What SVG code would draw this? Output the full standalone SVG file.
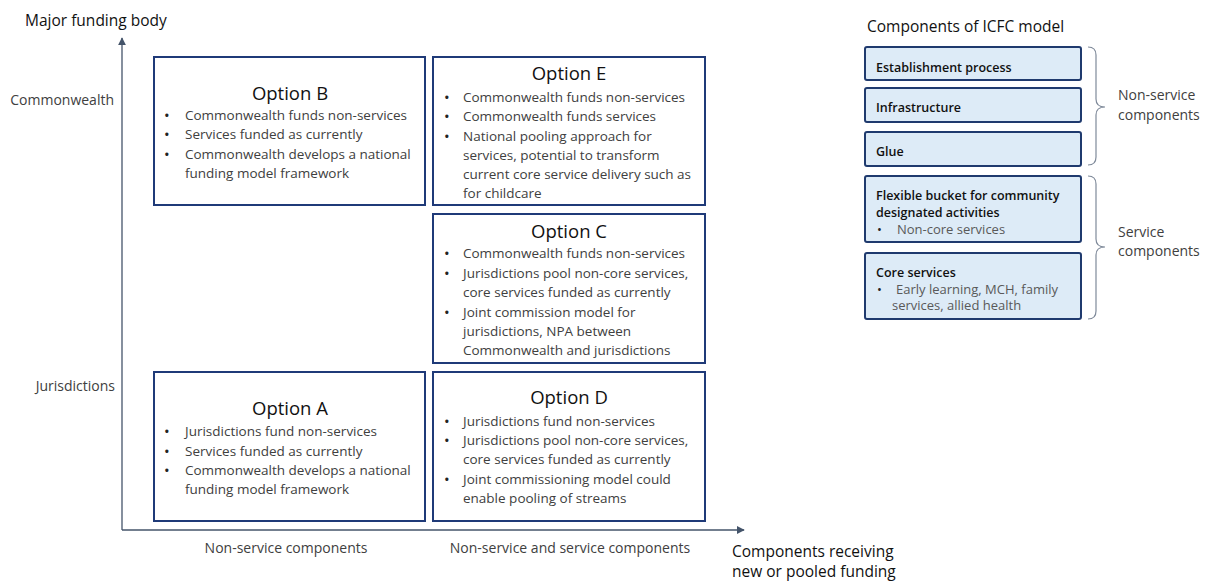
<svg xmlns="http://www.w3.org/2000/svg" width="1209" height="581" viewBox="0 0 1209 581">
<defs>
<style>
text{font-family:"Open Sans","Noto Sans","Liberation Sans",sans-serif}
.box{fill:#fff;stroke:#1F3A78;stroke-width:2}
.comp{fill:#DDEBF7;stroke:#1F3A6E;stroke-width:2}
.ttl{font-size:18.5px;fill:#111;text-anchor:middle}
.b{font-size:13.5px;fill:#404040}
.d{font-size:15px;fill:#222}
.ax{font-size:14px;fill:#404040}
.hd{font-size:15.5px;fill:#111}
.cb{font-size:12.5px;fill:#111;font-weight:600}
.cs{font-size:13px;fill:#595959}
.axis{stroke:#44546A;stroke-width:1.3;fill:none}
.brace{stroke:#7F8A9A;stroke-width:1.2;fill:none}
</style>
<marker id="ah" viewBox="0 0 10 10" refX="9" refY="5" markerWidth="8" markerHeight="8" orient="auto" markerUnits="userSpaceOnUse">
<path d="M0,0 L10,5 L0,10 z" fill="#44546A"/>
</marker>
</defs>
<rect width="1209" height="581" fill="#fff"/>

<g id="axes">
<line class="axis" x1="122" y1="530" x2="122" y2="38" marker-end="url(#ah)"/>
<line class="axis" x1="122" y1="530" x2="744" y2="530" marker-end="url(#ah)"/>
<text class="hd" x="25" y="26">Major funding body</text>
<text class="ax" x="114" y="105" text-anchor="end">Commonwealth</text>
<text class="ax" x="115" y="391" text-anchor="end">Jurisdictions</text>
<text class="ax" x="286" y="553" text-anchor="middle">Non-service components</text>
<text class="ax" x="570" y="553" text-anchor="middle">Non-service and service components</text>
<text class="hd" x="732" y="557">Components receiving</text>
<text class="hd" x="732" y="577">new or pooled funding</text>
</g>

<g id="optionB">
<rect class="box" x="154" y="57" width="271" height="148"/>
<text class="ttl" x="290" y="100">Option B</text>
<text class="b"><tspan class="d" x="164" y="121">•</tspan><tspan x="185" y="120">Commonwealth funds non-services</tspan><tspan class="d" x="164" y="140">•</tspan><tspan x="185" y="139">Services funded as currently</tspan><tspan class="d" x="164" y="160">•</tspan><tspan x="185" y="159">Commonwealth develops a national</tspan><tspan x="185" y="178">funding model framework</tspan></text>
</g>

<g id="optionE">
<rect class="box" x="433" y="57" width="272" height="148"/>
<text class="ttl" x="569" y="80">Option E</text>
<text class="b"><tspan class="d" x="444" y="103">•</tspan><tspan x="463" y="102">Commonwealth funds non-services</tspan><tspan class="d" x="444" y="122">•</tspan><tspan x="463" y="121">Commonwealth funds services</tspan><tspan class="d" x="444" y="142">•</tspan><tspan x="463" y="141">National pooling approach for</tspan><tspan x="463" y="160">services, potential to transform</tspan><tspan x="463" y="179">current core service delivery such as</tspan><tspan x="463" y="198">for childcare</tspan></text>
</g>

<g id="optionC">
<rect class="box" x="433" y="214" width="272" height="149"/>
<text class="ttl" x="569" y="238">Option C</text>
<text class="b"><tspan class="d" x="444" y="259">•</tspan><tspan x="463" y="258">Commonwealth funds non-services</tspan><tspan class="d" x="444" y="279">•</tspan><tspan x="463" y="278">Jurisdictions pool non-core services,</tspan><tspan x="463" y="297">core services funded as currently</tspan><tspan class="d" x="444" y="318">•</tspan><tspan x="463" y="317">Joint commission model for</tspan><tspan x="463" y="336">jurisdictions, NPA between</tspan><tspan x="463" y="355">Commonwealth and jurisdictions</tspan></text>
</g>

<g id="optionA">
<rect class="box" x="154" y="372" width="271" height="149"/>
<text class="ttl" x="290" y="415">Option A</text>
<text class="b"><tspan class="d" x="164" y="437">•</tspan><tspan x="185" y="436">Jurisdictions fund non-services</tspan><tspan class="d" x="164" y="457">•</tspan><tspan x="185" y="456">Services funded as currently</tspan><tspan class="d" x="164" y="476">•</tspan><tspan x="185" y="475">Commonwealth develops a national</tspan><tspan x="185" y="494">funding model framework</tspan></text>
</g>

<g id="optionD">
<rect class="box" x="433" y="372" width="272" height="149"/>
<text class="ttl" x="569" y="404">Option D</text>
<text class="b"><tspan class="d" x="444" y="427">•</tspan><tspan x="463" y="426">Jurisdictions fund non-services</tspan><tspan class="d" x="444" y="446">•</tspan><tspan x="463" y="445">Jurisdictions pool non-core services,</tspan><tspan x="463" y="464">core services funded as currently</tspan><tspan class="d" x="444" y="485">•</tspan><tspan x="463" y="484">Joint commissioning model could</tspan><tspan x="463" y="503">enable pooling of streams</tspan></text>
</g>

<g id="components">
<text class="hd" x="867" y="32">Components of ICFC model</text>
<g id="c-establishment"><rect class="comp" x="865" y="47" width="216" height="33" rx="2"/><text class="cb" x="876" y="72">Establishment process</text></g>
<g id="c-infrastructure"><rect class="comp" x="865" y="88" width="216" height="34" rx="2"/><text class="cb" x="876" y="112">Infrastructure</text></g>
<g id="c-glue"><rect class="comp" x="865" y="132" width="216" height="34" rx="2"/><text class="cb" x="876" y="156">Glue</text></g>
<g id="c-flexible"><rect class="comp" x="865" y="176" width="216" height="66" rx="2"/><text class="cb" x="876" y="200">Flexible bucket for community</text><text class="cb" x="876" y="217">designated activities</text><text class="cs"><tspan x="877" y="234" fill="#222">•</tspan><tspan x="897" y="234">Non-core services</tspan></text></g>
<g id="c-core"><rect class="comp" x="865" y="253" width="216" height="66" rx="2"/><text class="cb" x="876" y="277">Core services</text><text class="cs"><tspan x="877" y="294" fill="#222">•</tspan><tspan x="896" y="294">Early learning, MCH, family</tspan><tspan x="892" y="310">services, allied health</tspan></text></g>
</g>

<g id="braces">
<path class="brace" d="M1088,47 Q1096,47 1096,55 L1096,99 Q1096,107 1105,107 Q1096,107 1096,115 L1096,157 Q1096,165 1088,165"/>
<text class="ax" x="1118" y="100">Non-service</text>
<text class="ax" x="1118" y="120">components</text>
<path class="brace" d="M1088,176 Q1096,176 1096,184 L1096,239 Q1096,247 1105,247 Q1096,247 1096,255 L1096,311 Q1096,319 1088,319"/>
<text class="ax" x="1118" y="237">Service</text>
<text class="ax" x="1118" y="256">components</text>
</g>
</svg>
